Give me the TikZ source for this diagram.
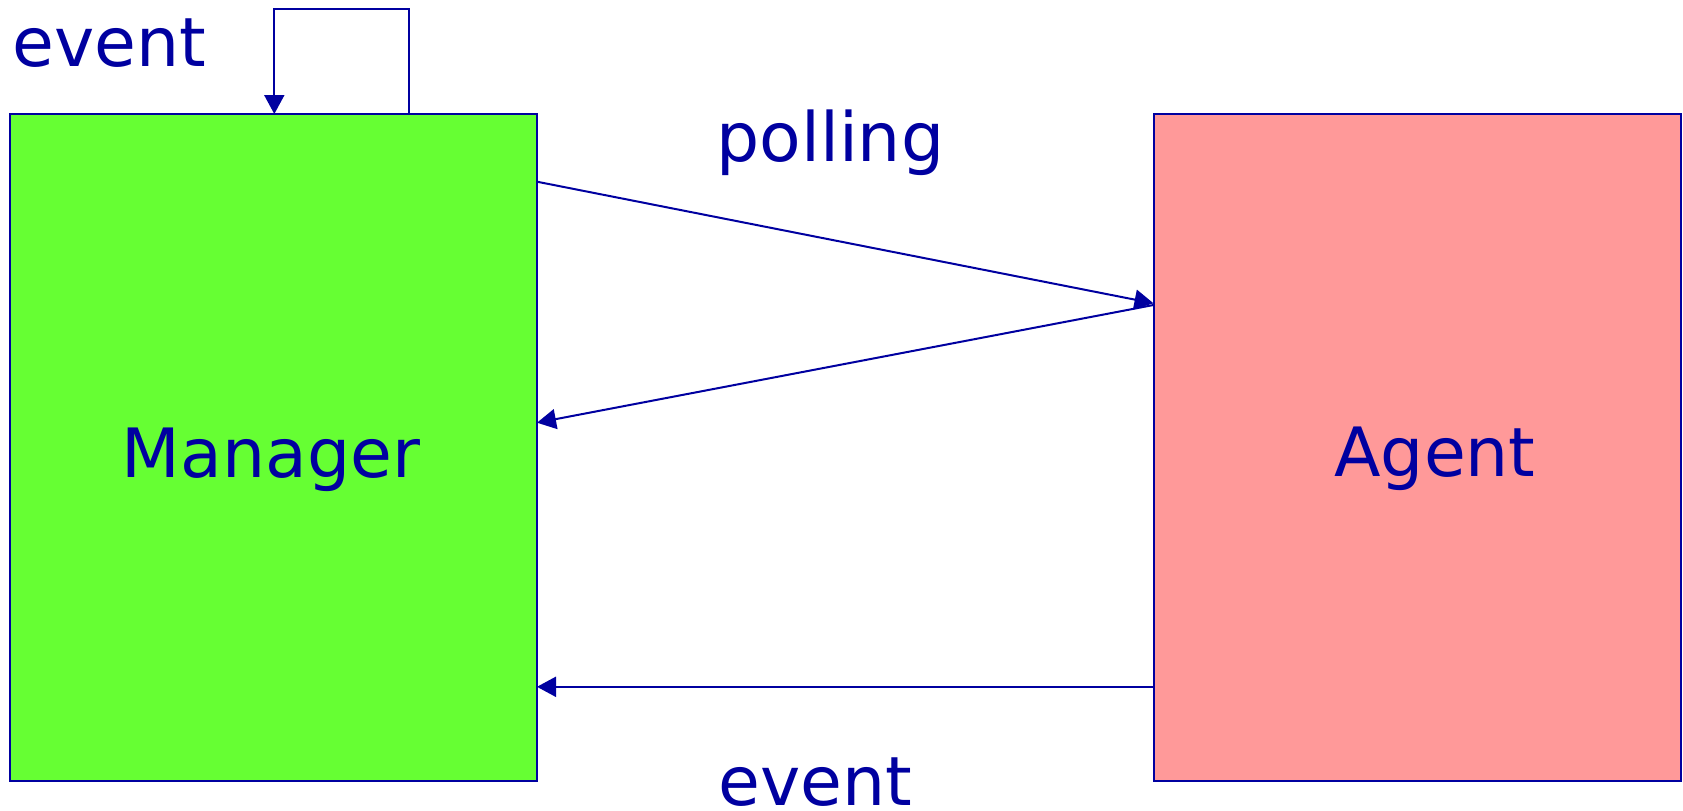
\documentclass[tikz,border=0pt]{standalone}
\usepackage{fontspec}
\setmainfont{DejaVu Sans}
\usetikzlibrary{arrows.meta,calc}
\definecolor{navy}{RGB}{0,0,160}
\definecolor{mgrgreen}{RGB}{102,255,51}
\definecolor{agtpink}{RGB}{255,153,153}
\tikzset{
  block/.style={draw=navy, line width=1pt, inner sep=0pt, outer sep=0pt,
    minimum width=263.5pt, minimum height=333.5pt},
  lbl/.style={text=navy, font=\fontsize{34}{40}\selectfont, inner sep=0pt, anchor=base},
  arr/.style={draw=navy, line width=1pt, -{Triangle[length=9.5pt,width=10pt]}}
}
\begin{document}
\begin{tikzpicture}[x=0.5pt,y=-0.5pt]
  \useasboundingbox (0,0) rectangle (1683,810);
  % the two parties
  \node[block, fill=mgrgreen] (mgr) at (273.5,447.5) {};
  \node[block, fill=agtpink]  (agt) at (1417,447.5) {};
  \node[lbl] (mgrtxt) at (271,477) {Manager};
  \node[lbl] (agttxt) at (1435,476) {Agent};
  % self event loop
  \draw[arr] ($(mgr.north west)+(399.3,0)$) -- ++(0,-104.7) -- ++(-135,0)
    -- ($(mgr.north west)+(264.3,0)$);
  \node[lbl, anchor=base west] (evtop) at (12,66.7) {event};
  % polling request and reply
  \draw[arr] ($(mgr.north east)+(0,67.7)$) -- ($(agt.north west)+(0,189.3)$);
  \draw[arr] ($(agt.north west)+(0,191)$) -- ($(mgr.north east)+(0,308.7)$);
  \node[lbl, anchor=base west] (poll) at (716,161) {polling};
  % event from agent
  \draw[arr] ($(agt.north west)+(0,572.8)$) -- ($(mgr.north east)+(0,572.8)$);
  \node[lbl, anchor=base west] (evbot) at (718,805) {event};
\end{tikzpicture}
\end{document}
